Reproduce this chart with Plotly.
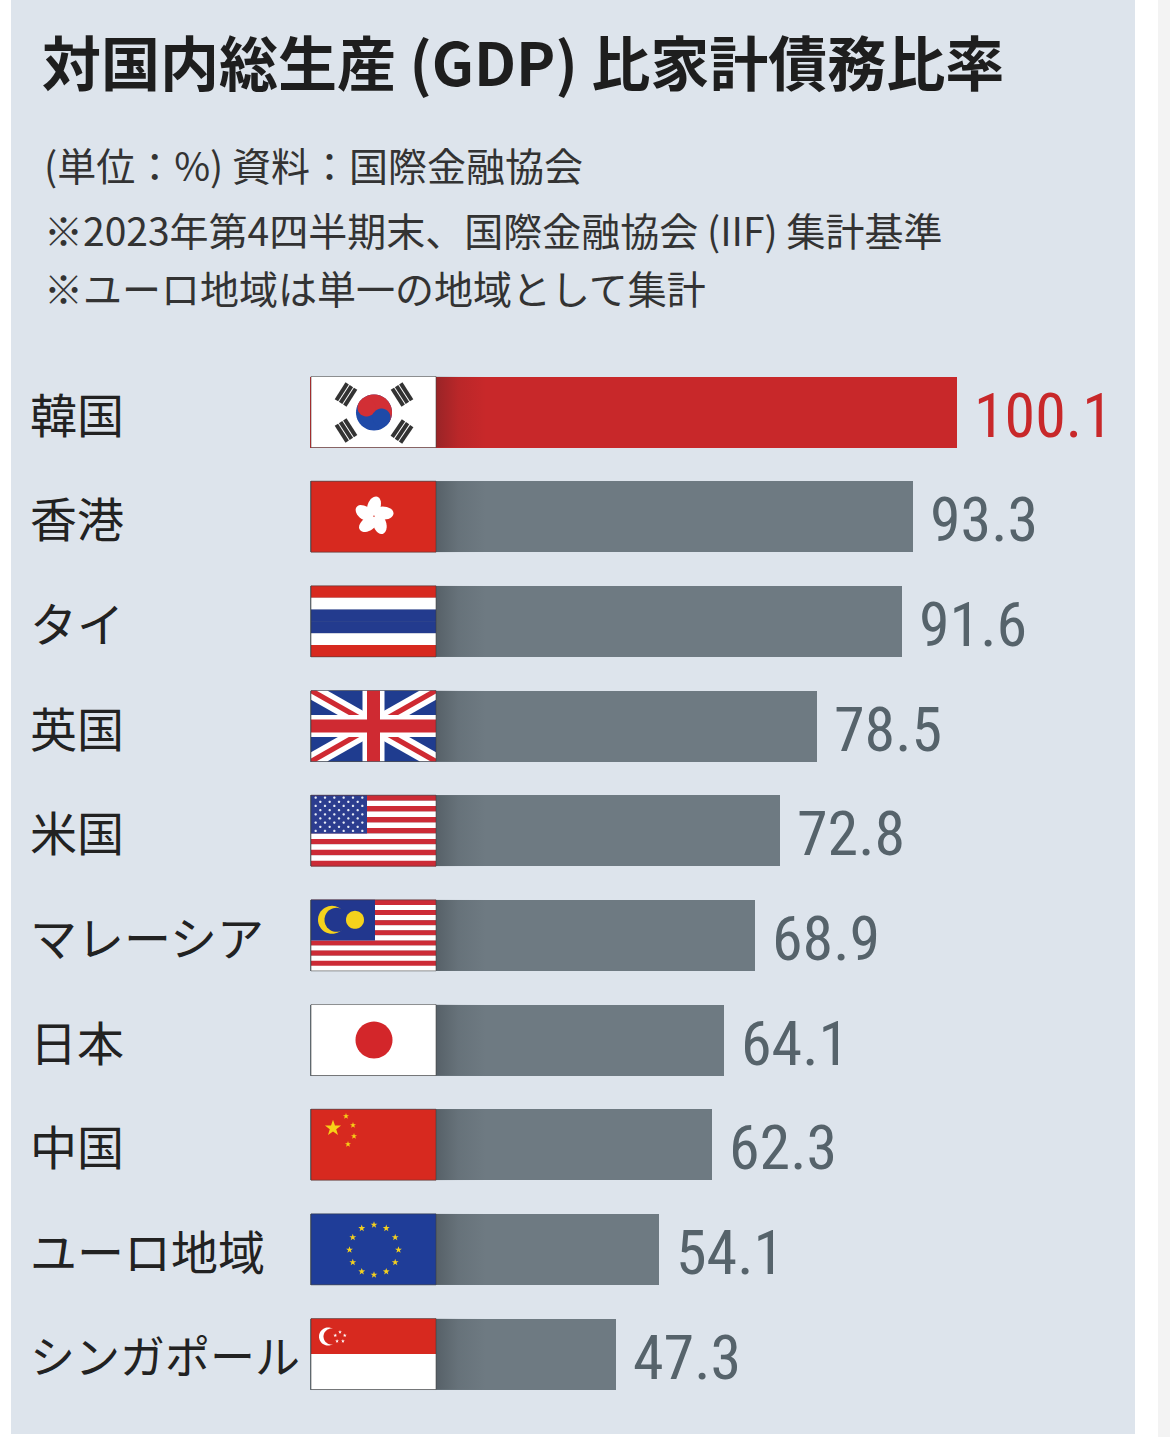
import math
import plotly.graph_objects as go

# ---------------- data ----------------
countries = ["韓国", "香港", "タイ", "英国", "米国", "マレーシア", "日本", "中国", "ユーロ地域", "シンガポール"]
values = [100.1, 93.3, 91.6, 78.5, 72.8, 68.9, 64.1, 62.3, 54.1, 47.3]
flag_codes = ["kr", "hk", "th", "uk", "us", "my", "jp", "cn", "eu", "sg"]
title_text = "対国内総生産 (GDP) 比家計債務比率"
note_lines = [
    "(単位：%) 資料：国際金融協会",
    "※2023年第4四半期末、国際金融協会 (IIF) 集計基準",
    "※ユーロ地域は単一の地域として集計",
]
highlight_country = "韓国"

# ---------------- geometry / style ----------------
W, H = 1170, 1437
PX_X = 6.46          # pixels per percentage point
X0_PX = 310          # pixel where value 0 sits
ROW_PX = 104.67      # pixels between rows
ROW0_PX = 412        # pixel centre of first row
FW, FH = 125, 71     # flag size in px
BAR_W = FH / ROW_PX

RED = "#c8282a"
GRAY = "#6e7a82"
PANEL = "#dde4ec"
FRED = "#d7291f"
FBLUE = "#233b8e"
YEL = "#f5d21c"

rows = list(range(len(countries)))
bar_colors = [RED if c == highlight_country else GRAY for c in countries]

shapes = []


def to_xy(row, u, v):
    return (1 + u) / PX_X, row + (v - FH / 2) / ROW_PX


def poly(row, pts, fill, line_color=None, line_width=0):
    xy = [to_xy(row, u, v) for u, v in pts]
    path = "M " + " L ".join(f"{x:.4f},{y:.4f}" for x, y in xy) + " Z"
    shapes.append(dict(type="path", xref="x", yref="y", path=path,
                       fillcolor=fill, layer="above",
                       line=dict(width=line_width, color=line_color or fill)))


def rect(row, u0, v0, u1, v1, fill):
    poly(row, [(u0, v0), (u1, v0), (u1, v1), (u0, v1)], fill)


def circ_pts(cu, cv, r, n=48, a0=0.0, a1=2 * math.pi):
    return [(cu + r * math.cos(a0 + (a1 - a0) * k / n), cv + r * math.sin(a0 + (a1 - a0) * k / n))
            for k in range(n + 1)]


def circle(row, cu, cv, r, fill, n=48):
    poly(row, circ_pts(cu, cv, r, n), fill)


def star(row, cu, cv, r, fill, rot=-90):
    pts = []
    for k in range(10):
        rr = r if k % 2 == 0 else r * 0.4
        a = math.radians(rot + 36 * k)
        pts.append((cu + rr * math.cos(a), cv + rr * math.sin(a)))
    poly(row, pts, fill)


def ellipse(row, cu, cv, a, b, ang, fill, n=30):
    pts = []
    for k in range(n):
        t = 2 * math.pi * k / n
        x, y = a * math.cos(t), b * math.sin(t)
        pts.append((cu + x * math.cos(ang) - y * math.sin(ang), cv + x * math.sin(ang) + y * math.cos(ang)))
    poly(row, pts, fill)


def flag_kr(r):
    rect(r, 0, 0, FW, FH, "white")
    cu, cv, rad = 63, 36, 18
    th = math.radians(33.7)
    circle(r, cu, cv, rad, "#1f4aa8")
    poly(r, circ_pts(cu, cv, rad, 40, th + math.pi, th + 2 * math.pi), "#d22f35")
    dx, dy = math.cos(th) * rad / 2, math.sin(th) * rad / 2
    circle(r, cu - dx, cv - dy, rad / 2, "#d22f35", 30)
    circle(r, cu + dx, cv + dy, rad / 2, "#1f4aa8", 30)
    for (tu, tv) in [(35, 18), (91, 18), (35, 54), (91, 55)]:
        nu, nv = tu - cu, tv - cv
        L = math.hypot(nu, nv)
        nu, nv = nu / L, nv / L
        tu_, tv_ = -nv, nu
        for off in (-5, 0, 5):
            bu, bv = tu + nu * off, tv + nv * off
            hl, hw = 10, 2.0
            pts = [(bu + tu_ * s * hl + nu * q * hw, bv + tv_ * s * hl + nv * q * hw)
                   for s, q in [(-1, -1), (1, -1), (1, 1), (-1, 1)]]
            poly(r, pts, "#333333")


def flag_hk(r):
    rect(r, 0, 0, FW, FH, FRED)
    cu, cv = 63, 35
    for k in range(5):
        a = math.radians(-90 + 72 * k)
        ellipse(r, cu + 10 * math.cos(a), cv + 10 * math.sin(a), 10, 6.5, a + 0.35, "white")


def flag_th(r):
    s = FH / 6
    cols = [FRED, "white", FBLUE, FBLUE, "white", FRED]
    for i, c in enumerate(cols):
        rect(r, 0, i * s, FW, (i + 1) * s + 0.2, c)


def flag_uk(r):
    rect(r, 0, 0, FW, FH, "#1f3c8f")
    al = math.atan2(FH, FW)
    for w, c in [(8, "white"), (2.6, "#cf2a32")]:
        dx, dy = w / math.sin(al), w / math.cos(al)
        poly(r, [(0, 0), (dx, 0), (FW, FH - dy), (FW, FH), (FW - dx, FH), (0, dy)], c)
        poly(r, [(0, FH), (dx, FH), (FW, dy), (FW, 0), (FW - dx, 0), (0, FH - dy)], c)
    rect(r, FW / 2 - 11, 0, FW / 2 + 11, FH, "white")
    rect(r, 0, FH / 2 - 11, FW, FH / 2 + 11, "white")
    rect(r, FW / 2 - 6.5, 0, FW / 2 + 6.5, FH, "#cf2a32")
    rect(r, 0, FH / 2 - 6.5, FW, FH / 2 + 6.5, "#cf2a32")


def flag_us(r):
    s = FH / 13
    for i in range(13):
        rect(r, 0, i * s, FW, (i + 1) * s + 0.2, "#cc2b36" if i % 2 == 0 else "white")
    cw, ch = 56, 7 * s
    rect(r, 0, 0, cw, ch, "#2c3d8f")
    for j in range(9):
        n = 6 if j % 2 == 0 else 5
        for i in range(n):
            u = (i + (0.5 if j % 2 == 0 else 1.0)) * cw / 6
            v = (j + 0.6) * ch / 9.2
            circle(r, u, v, 1.3, "#e8ecf5", 6)


def flag_my(r):
    s = FH / 14
    for i in range(14):
        rect(r, 0, i * s, FW, (i + 1) * s + 0.2, "#cc2b36" if i % 2 == 0 else "white")
    rect(r, 0, 0, 64, 8 * s, "#22378e")
    circle(r, 21, 20, 14, YEL)
    circle(r, 25.5, 20, 12, "#22378e")
    circle(r, 44, 20, 9, YEL)


def flag_jp(r):
    rect(r, 0, 0, FW, FH, "white")
    circle(r, 63, 35.5, 18.5, "#d3262a")


def flag_cn(r):
    rect(r, 0, 0, FW, FH, FRED)
    star(r, 22, 19, 8.5, "#f7d117")
    for (u, v) in [(35, 7), (42, 16), (43, 27), (37, 35)]:
        star(r, u, v, 3.2, "#f7d117")


def flag_eu(r):
    rect(r, 0, 0, FW, FH, "#1f3d98")
    for k in range(12):
        a = math.radians(-90 + 30 * k)
        star(r, 63 + 24.5 * math.cos(a), 36 + 25 * math.sin(a), 3.6, "#f4d01f")


def flag_sg(r):
    rect(r, 0, FH / 2, FW, FH, "white")
    rect(r, 0, 0, FW, FH / 2, FRED)
    circle(r, 17, 18, 9, "white")
    circle(r, 20.5, 18, 8, FRED)
    for k in range(5):
        a = math.radians(-90 + 72 * k)
        star(r, 29 + 5 * math.cos(a), 18.5 + 5 * math.sin(a), 2.0, "white")


flag_fns = dict(kr=flag_kr, hk=flag_hk, th=flag_th, uk=flag_uk, us=flag_us,
                my=flag_my, jp=flag_jp, cn=flag_cn, eu=flag_eu, sg=flag_sg)

# ---------------- figure ----------------
fig = go.Figure()

fig.add_trace(go.Bar(
    x=values, y=rows, orientation="h", width=BAR_W,
    marker=dict(color=bar_colors, line=dict(width=0)),
    hoverinfo="skip", showlegend=False,
))

# shading gradient at the start of each bar (shadow next to the flag)
g0 = (FW + 1) / PX_X
g1 = g0 + 50 / PX_X
for r in rows:
    y0, y1 = r - BAR_W / 2, r + BAR_W / 2
    fig.add_trace(go.Scatter(
        x=[g0, g1, g1, g0, g0], y=[y0, y0, y1, y1, y0],
        mode="lines", line=dict(width=0), fill="toself",
        fillgradient=dict(type="horizontal",
                          colorscale=[[0, "rgba(20,25,30,0.26)"], [0.45, "rgba(20,25,30,0.08)"],
                                      [1, "rgba(20,25,30,0)"]]),
        hoverinfo="skip", showlegend=False,
    ))

for r, code in zip(rows, flag_codes):
    flag_fns[code](r)
    xa, ya = to_xy(r, 0, 0)
    xb, yb = to_xy(r, FW, FH)
    shapes.append(dict(type="rect", xref="x", yref="y", x0=xa, x1=xb, y0=ya, y1=yb,
                       line=dict(color="rgba(60,60,60,0.55)", width=1), fillcolor="rgba(0,0,0,0)",
                       layer="above"))

# background panel
bg_shapes = [
    dict(type="rect", xref="paper", yref="paper", x0=11 / W, x1=1135 / W, y0=1 - 1434 / H, y1=1,
         fillcolor=PANEL, line=dict(width=0), layer="below"),
    dict(type="rect", xref="paper", yref="paper", x0=1158 / W, x1=1, y0=0, y1=1,
         fillcolor="#f3f3f3", line=dict(width=0), layer="below"),
]

annotations = []
annotations.append(dict(
    text=title_text, xref="paper", yref="paper", x=40 / W, y=1 - 60 / H,
    xanchor="left", yanchor="middle", showarrow=False,
    font=dict(family="Noto Sans CJK JP", size=59, color="#1e1e1e", weight=700),
))
for txt, py in zip(note_lines, [164, 229, 287]):
    annotations.append(dict(
        text=txt, xref="paper", yref="paper", x=42 / W, y=1 - py / H,
        xanchor="left", yanchor="middle", showarrow=False,
        font=dict(family="Noto Sans CJK JP", size=39, color="#333333"),
    ))
for r, name in zip(rows, countries):
    annotations.append(dict(
        text=name, xref="paper", yref="y", x=28 / W, y=r,
        xanchor="left", yanchor="middle", showarrow=False,
        font=dict(family="Noto Sans CJK JP", size=45 if len(name) > 5 else 47, color="#222222"),
    ))
for r, v, c in zip(rows, values, countries):
    annotations.append(dict(
        text=f"{v:.1f}", xref="x", yref="y", x=v, y=r, xshift=15, yshift=-3,
        xanchor="left", yanchor="middle", showarrow=False,
        font=dict(family="Roboto Condensed, Liberation Sans Narrow, DejaVu Sans Condensed, Liberation Sans",
                  size=62, color=RED if c == highlight_country else "#56636b"),
    ))

fig.update_layout(
    width=W, height=H,
    margin=dict(l=0, r=0, t=0, b=0, pad=0),
    paper_bgcolor="white", plot_bgcolor="rgba(0,0,0,0)",
    xaxis=dict(range=[-X0_PX / PX_X, (W - X0_PX) / PX_X], visible=False, fixedrange=True),
    yaxis=dict(range=[(H - ROW0_PX) / ROW_PX, -ROW0_PX / ROW_PX], visible=False, fixedrange=True),
    shapes=bg_shapes + shapes,
    annotations=annotations,
    bargap=0,
)

fig.write_html("out.html", config={"displayModeBar": False},
               post_script="document.body.style.margin='0px';")
